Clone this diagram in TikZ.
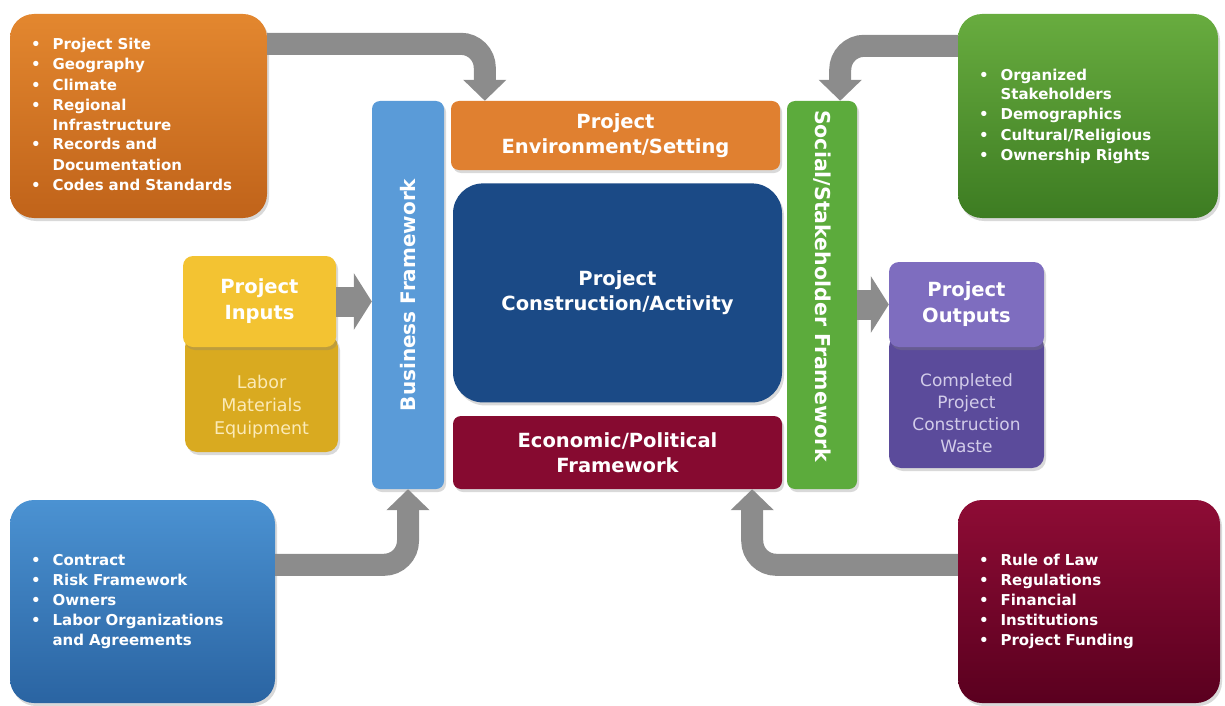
\documentclass[tikz,border=0pt]{standalone}
\usepackage{fontspec}
\setmainfont{DejaVu Sans}
\usetikzlibrary{positioning,arrows.meta,shadows}

\definecolor{siteA}{HTML}{E3872F}
\definecolor{siteB}{HTML}{C0631A}
\definecolor{stakeA}{HTML}{68AC3F}
\definecolor{stakeB}{HTML}{3D7C22}
\definecolor{contractA}{HTML}{4B92D2}
\definecolor{contractB}{HTML}{2A64A2}
\definecolor{lawA}{HTML}{8E0C35}
\definecolor{lawB}{HTML}{5A001F}
\definecolor{busblue}{HTML}{5A9BD8}
\definecolor{socgreen}{HTML}{5CAB3C}
\definecolor{envorange}{HTML}{E08030}
\definecolor{econred}{HTML}{860A30}
\definecolor{coreblue}{HTML}{1B4A86}
\definecolor{inA}{HTML}{F3C332}
\definecolor{inB}{HTML}{D9AA20}
\definecolor{outA}{HTML}{7E6DBF}
\definecolor{outB}{HTML}{5B4B9B}
\definecolor{flowgray}{HTML}{8C8C8C}

\tikzset{
  shade/.style={drop shadow={opacity=0.3,shadow xshift=2pt,shadow yshift=-3pt}},
  panel/.style={
    rectangle, rounded corners=24pt, inner xsep=21pt, shade,
    text=white, align=left,
    font=\fontsize{15}{20}\selectfont\bfseries
  },
  bar/.style={rectangle, rounded corners=8pt, shade, text=white, align=center,
    font=\fontsize{19.5}{24.5}\selectfont\bfseries},
  vtext/.style={text=white, font=\fontsize{20}{22}\selectfont\bfseries},
  head/.style={rectangle, rounded corners=10pt, shade, text=white, align=center,
    font=\fontsize{19.5}{26}\selectfont\bfseries},
  base/.style={rectangle, rounded corners=12pt, shade},
  basetext/.style={align=center, font=\fontsize{17.5}{23}\selectfont},
  flow/.style={draw=flowgray, line width=22pt, rounded corners=24pt,
    -{Triangle[width=42pt,length=21pt]}},
  push/.style={draw=flowgray, line width=30pt,
    -{Triangle[width=56pt,length=18pt]}},
}

\begin{document}
\begin{tikzpicture}[x=1pt,y=-1pt]
\useasboundingbox (0,0) rectangle (1225,706);

% the framework in the middle
\node[bar, fill=busblue, minimum width=72pt, minimum height=388pt,
  label={[vtext,rotate=90]center:Business Framework}] (business) at (408,295) {};
\node[bar, fill=envorange, minimum width=329pt, minimum height=69pt] (env) at (615.5,135.5)
  {Project\\Environment/Setting};
\node[bar, fill=coreblue, rounded corners=30pt, minimum width=329pt, minimum height=219pt,
  below=13pt of env.south, anchor=north, xshift=2pt] (core)
  {Project\\Construction/Activity};
\node[bar, fill=econred, minimum width=329pt, minimum height=73pt] (econ) at (617.5,452.5)
  {Economic/Political\\Framework};
\node[bar, fill=socgreen, minimum width=70pt, minimum height=388pt,
  label={[vtext,rotate=-90,xshift=-9pt,font=\fontsize{20.5}{22}\selectfont\bfseries]center:Social/Stakeholder Framework}]
  (social) at (822,295) {};

% inputs and outputs
\node[base, fill=inB, minimum width=153pt, minimum height=117pt] (inputs-base) at (261.5,393.5) {};
\node[basetext, text=inA!35!white] (inputs-text) at (261.5,407) {Labor\\Materials\\Equipment};
\node[head, fill=inA, minimum width=153pt, minimum height=91pt] (inputs) at (259.5,301.5)
  {Project\\Inputs};

\node[base, fill=outB, minimum width=155pt, minimum height=133pt] (outputs-base) at (966.5,401.5) {};
\node[basetext, text=outA!35!white, font=\fontsize{17}{22}\selectfont] (outputs-text) at (966.5,413)
  {Completed\\Project\\Construction\\Waste};
\node[head, fill=outA, minimum width=155pt, minimum height=85pt] (outputs) at (966.5,304.5)
  {Project\\Outputs};

% factor boxes in the corners
\node[panel, top color=siteA, bottom color=siteB, text width=215pt, minimum height=204pt]
  (site) at (138.5,116) {%
  \begin{tabular}{@{}l@{\hspace{12pt}}l@{}}
  \textbullet & Project Site\\
  \textbullet & Geography\\
  \textbullet & Climate\\
  \textbullet & Regional\\
              & Infrastructure\\
  \textbullet & Records and\\
              & Documentation\\
  \textbullet & Codes and Standards
  \end{tabular}};
\node[panel, top color=stakeA, bottom color=stakeB, text width=218pt, minimum height=204pt]
  (stake) at (1088,116) {%
  \begin{tabular}{@{}l@{\hspace{12pt}}l@{}}
  \textbullet & Organized\\
              & Stakeholders\\
  \textbullet & Demographics\\
  \textbullet & Cultural/Religious\\
  \textbullet & Ownership Rights
  \end{tabular}};
\node[panel, top color=contractA, bottom color=contractB, text width=223pt, minimum height=203pt]
  (contract) at (142.5,601.5) {%
  \begin{tabular}{@{}l@{\hspace{12pt}}l@{}}
  \textbullet & Contract\\
  \textbullet & Risk Framework\\
  \textbullet & Owners\\
  \textbullet & Labor Organizations\\
              & and Agreements
  \end{tabular}};
\node[panel, top color=lawA, bottom color=lawB, text width=220pt, minimum height=203pt]
  (law) at (1089,601.5) {%
  \begin{tabular}{@{}l@{\hspace{12pt}}l@{}}
  \textbullet & Rule of Law\\
  \textbullet & Regulations\\
  \textbullet & Financial\\
  \textbullet & Institutions\\
  \textbullet & Project Funding
  \end{tabular}};

% gray arrows
\draw[flow] ([yshift=-30pt]site.north east) -| ([xshift=34pt]env.north west);
\draw[flow] ([yshift=-32pt]stake.north west) -| ([xshift=-17pt]social.north east);
\draw[flow] ([yshift=-65pt]contract.north east) -| (business.south);
\draw[flow] ([yshift=-65pt]law.north west) -| ([xshift=-30pt]econ.south east);

\draw[push] (inputs.east) -- (inputs.east -| business.west);
\draw[push] (social.east |- outputs.west) -- (outputs.west);
\end{tikzpicture}
\end{document}
